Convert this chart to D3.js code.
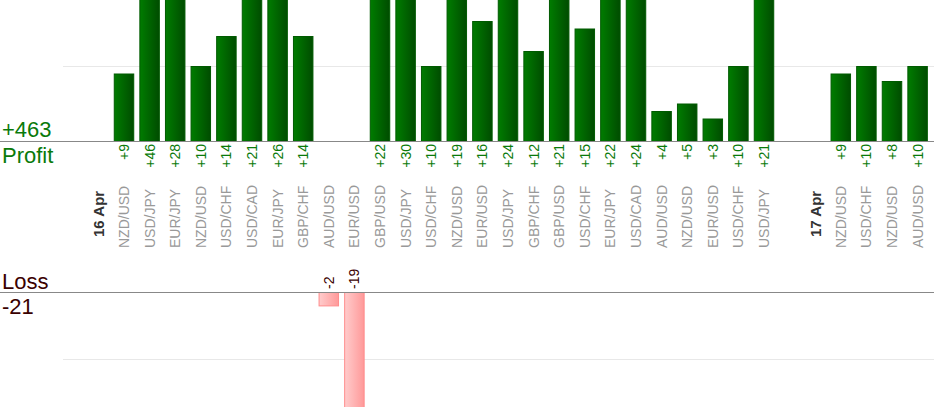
<!DOCTYPE html>
<html lang="en">
<head>
<meta charset="UTF-8">
<title>Profit / Loss</title>
<script src="https://d3js.org/d3.v7.min.js"></script>
<style>
  body { margin: 0; background: #fff; }
  svg text { font-family: "Liberation Sans", Arial, sans-serif; }
</style>
</head>
<body>
<div id="chart"></div>
<script>
// data
var days = ["16 Apr", "17 Apr"];
var pairs = [
  ["NZD/USD", "USD/JPY", "EUR/JPY", "NZD/USD", "USD/CHF", "USD/CAD", "EUR/JPY", "GBP/CHF",
   "AUD/USD", "EUR/USD", "GBP/USD", "USD/JPY", "USD/CHF", "NZD/USD", "EUR/USD", "USD/JPY",
   "GBP/CHF", "GBP/USD", "USD/CHF", "EUR/JPY", "USD/CAD", "AUD/USD", "NZD/USD", "EUR/USD",
   "USD/CHF", "USD/JPY"],
  ["NZD/USD", "USD/CHF", "NZD/USD", "AUD/USD"]
];
var results = [
  [9, 46, 28, 10, 14, 21, 26, 14, -2, -19, 22, 30, 10, 19, 16, 24, 12, 21, 15, 22, 24, 4, 5, 3, 10, 21],
  [9, 10, 8, 10]
];
var totalProfit = 463, totalLoss = -21;

var W = 934, H = 420;
var profitBase = 141, lossBase = 292;

// each day: one empty slot, one date slot, then its trades
var slots = [];
days.forEach(function(d, i) {
  slots.push({type: "gap"});
  slots.push({type: "date", label: d});
  pairs[i].forEach(function(p, j) {
    slots.push({type: "trade", pair: p, value: results[i][j]});
  });
});
slots.forEach(function(s, i) { s.i = i; });
var trades = slots.filter(function(s) { return s.type == "trade"; });

var x = d3.scaleBand()
  .domain(slots.map(function(s) { return s.i; }))
  .range([60, 930.4])
  .paddingInner(0.2)
  .paddingOuter(0.1);

var yP = d3.scaleLinear().domain([0, 10]).range([profitBase, 66]);
var yL = d3.scaleLinear().domain([0, 10]).range([lossBase, 359]);

var svg = d3.select("#chart").append("svg")
  .attr("width", W).attr("height", H);

var defs = svg.append("defs");
var gG = defs.append("linearGradient").attr("id", "gGreen");
gG.append("stop").attr("offset", "0%").attr("stop-color", "#007c00");
gG.append("stop").attr("offset", "100%").attr("stop-color", "#004c00");
var gR = defs.append("linearGradient").attr("id", "gPink");
gR.append("stop").attr("offset", "0%").attr("stop-color", "#ffcccc");
gR.append("stop").attr("offset", "100%").attr("stop-color", "#ff9999");

defs.append("clipPath").attr("id", "clipP")
  .append("rect").attr("x", 0).attr("y", 0).attr("width", W).attr("height", profitBase);
defs.append("clipPath").attr("id", "clipL")
  .append("rect").attr("x", 0).attr("y", lossBase).attr("width", W).attr("height", 407 - lossBase);

// gridlines
svg.append("line").attr("x1", 63).attr("x2", W)
  .attr("y1", yP(10) + 0.5).attr("y2", yP(10) + 0.5)
  .attr("stroke", "#e8e8e8");
svg.append("line").attr("x1", 63).attr("x2", W)
  .attr("y1", yL(10) + 0.5).attr("y2", yL(10) + 0.5)
  .attr("stroke", "#e8e8e8");

var bw = x.bandwidth();

// profit bars
svg.append("g").attr("clip-path", "url(#clipP)")
  .selectAll("rect")
  .data(trades.filter(function(d) { return d.value > 0; }))
  .enter().append("rect")
    .attr("x", function(d) { return x(d.i) + 0.5; })
    .attr("y", function(d) { return yP(d.value) + 0.5; })
    .attr("width", bw - 1)
    .attr("height", function(d) { return profitBase - yP(d.value); })
    .attr("fill", "url(#gGreen)")
    .attr("stroke", "#005a00");

// loss bars
svg.append("g").attr("clip-path", "url(#clipL)")
  .selectAll("rect")
  .data(trades.filter(function(d) { return d.value < 0; }))
  .enter().append("rect")
    .attr("x", function(d) { return x(d.i) + 0.5; })
    .attr("y", lossBase + 0.5)
    .attr("width", bw - 1)
    .attr("height", function(d) { return yL(-d.value) - lossBase; })
    .attr("fill", "url(#gPink)")
    .attr("stroke", "#ff8c8c");

// baselines
svg.append("line").attr("x1", 0).attr("x2", W)
  .attr("y1", profitBase + 0.5).attr("y2", profitBase + 0.5)
  .attr("stroke", "#888");
svg.append("line").attr("x1", 0).attr("x2", W)
  .attr("y1", lossBase + 0.5).attr("y2", lossBase + 0.5)
  .attr("stroke", "#888");

function cx(d) { return x(d.i) + bw / 2; }

// value labels on profit side
svg.append("g").selectAll("text")
  .data(trades.filter(function(d) { return d.value > 0; }))
  .enter().append("text")
    .attr("transform", function(d) { return "translate(" + cx(d) + ",144) rotate(-90)"; })
    .attr("text-anchor", "end")
    .attr("dominant-baseline", "central")
    .attr("font-size", 14)
    .attr("fill", "#0a7a0a")
    .text(function(d) { return "+" + d.value; });

// value labels on loss side
svg.append("g").selectAll("text")
  .data(trades.filter(function(d) { return d.value < 0; }))
  .enter().append("text")
    .attr("transform", function(d) { return "translate(" + cx(d) + ",289) rotate(-90)"; })
    .attr("text-anchor", "start")
    .attr("dominant-baseline", "central")
    .attr("font-size", 14)
    .attr("fill", "#3a0000")
    .text(function(d) { return d.value; });

// pair names
svg.append("g").selectAll("text")
  .data(trades)
  .enter().append("text")
    .attr("transform", function(d) { return "translate(" + cx(d) + ",248) rotate(-90)"; })
    .attr("text-anchor", "start")
    .attr("dominant-baseline", "central")
    .attr("font-size", 14)
    .attr("fill", "#999")
    .text(function(d) { return d.pair; });

// date labels
svg.append("g").selectAll("text")
  .data(slots.filter(function(s) { return s.type == "date"; }))
  .enter().append("text")
    .attr("transform", function(d) { return "translate(" + cx(d) + ",237) rotate(-90)"; })
    .attr("text-anchor", "start")
    .attr("dominant-baseline", "central")
    .attr("font-size", 15)
    .attr("font-weight", "bold")
    .attr("fill", "#333")
    .text(function(d) { return d.label; });

// totals at left
svg.append("text").attr("x", 2).attr("y", 137)
  .attr("font-size", 22).attr("fill", "#0a7a0a")
  .text("+" + totalProfit);
svg.append("text").attr("x", 2).attr("y", 163)
  .attr("font-size", 22).attr("fill", "#0a7a0a")
  .text("Profit");
svg.append("text").attr("x", 2).attr("y", 289)
  .attr("font-size", 22).attr("fill", "#3a0000")
  .text("Loss");
svg.append("text").attr("x", 2).attr("y", 314)
  .attr("font-size", 22).attr("fill", "#3a0000")
  .text(totalLoss);
</script>
</body>
</html>
